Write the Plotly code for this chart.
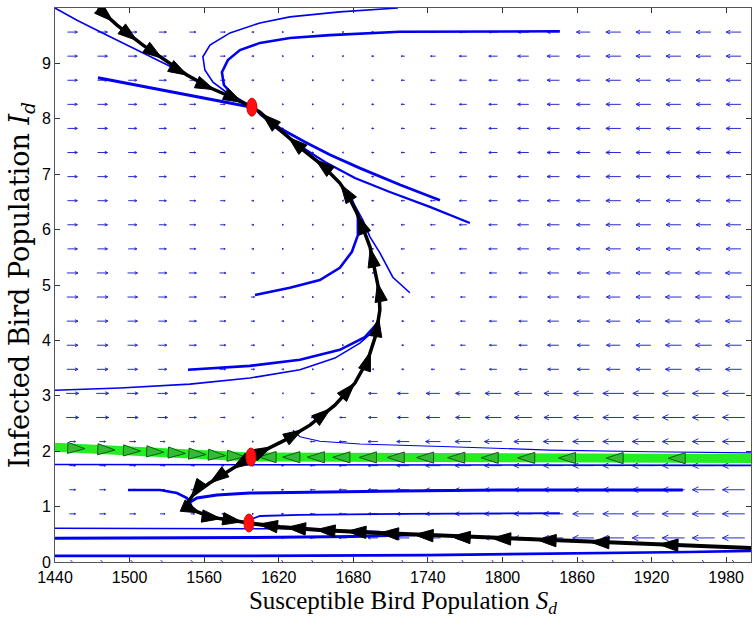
import numpy as np
import plotly.graph_objects as go

# ---------------------------------------------------------------------------
# Equilibria (S_d, I_d)
eq_S = [1598.4, 1597.6, 1596.0]
eq_I = [8.21, 1.895, 0.704]

# Black manifolds, each listed in the direction of the flow
blk_top_S = [1474.6, 1489.9, 1510.8, 1530.1, 1546.2, 1564.7, 1583.2, 1598.4]
blk_top_I = [10.0, 9.69, 9.33, 9.03, 8.79, 8.56, 8.38, 8.21]

blk_up_S = [1597.6, 1608.9, 1625.0, 1645.1, 1665.2, 1681.3, 1691.7, 1698.2, 1701.4,
            1700.6, 1698.2, 1693.4, 1687.7, 1682.9, 1675.7, 1669.2, 1654.7, 1639.5,
            1621.0, 1604.9, 1598.4]
blk_up_I = [1.895, 2.02, 2.20, 2.47, 2.83, 3.23, 3.65, 4.10, 4.55,
            4.91, 5.18, 5.69, 6.03, 6.30, 6.62, 6.84, 7.17, 7.44,
            7.80, 8.12, 8.21]

blk_low_S = [1597.6, 1580.8, 1564.7, 1551.0, 1547.0, 1551.0, 1564.7, 1580.8, 1596.0]
blk_low_I = [1.895, 1.66, 1.43, 1.21, 1.08, 0.94, 0.81, 0.76, 0.704]

blk_bot_S = [2000.0, 1958.8, 1894.4, 1830.1, 1765.7, 1701.4, 1653.1, 1621.0, 1596.0]
blk_bot_I = [0.253, 0.289, 0.343, 0.397, 0.451, 0.523, 0.578, 0.632, 0.704]

# Green stable manifold of the saddle
grn_left_S = [1440.0, 1520.0, 1597.6]
grn_left_I = [2.07, 1.99, 1.895]
grn_right_S = [2000.0, 1800.0, 1597.6]
grn_right_I = [1.87, 1.88, 1.895]

# Blue sample trajectories
blue_corner_S = [1440.0, 1457.7, 1476.2, 1502.7, 1534.9, 1572.7, 1598.4]
blue_corner_I = [10.0, 9.78, 9.57, 9.28, 8.92, 8.48, 8.21]
blue_ray_S = [1474.6, 1536.5, 1598.4]
blue_ray_I = [8.74, 8.48, 8.21]
blue_hook1_S = [1715.9, 1669.2, 1629.0, 1604.9, 1580.8, 1564.7, 1559.0, 1560.6, 1567.1, 1580.8, 1598.4]
blue_hook1_I = [10.0, 9.93, 9.84, 9.73, 9.55, 9.33, 9.12, 8.88, 8.66, 8.43, 8.21]
blue_hook2_S = [1846.2, 1781.8, 1717.5, 1661.2, 1629.0, 1604.9, 1588.8, 1579.1, 1574.3, 1575.9, 1584.8, 1598.4]
blue_hook2_I = [9.58, 9.58, 9.57, 9.51, 9.46, 9.37, 9.24, 9.06, 8.84, 8.61, 8.39, 8.21]
blue_r1_S = [1749.7, 1717.5, 1685.3, 1661.2, 1641.1, 1621.0, 1604.9]
blue_r1_I = [6.53, 6.81, 7.11, 7.35, 7.58, 7.83, 8.09]
blue_r2_S = [1773.8, 1741.6, 1709.4, 1681.3, 1657.2, 1637.1, 1617.0, 1603.3]
blue_r2_I = [6.12, 6.41, 6.68, 6.93, 7.22, 7.51, 7.85, 8.12]
blue_m1_S = [1600.9, 1629.0, 1653.1, 1669.2, 1678.9, 1683.7, 1683.7, 1677.3]
blue_m1_I = [4.82, 4.95, 5.09, 5.31, 5.60, 5.90, 6.26, 6.62]
blue_m2_S = [1725.5, 1711.8, 1701.4, 1693.4, 1687.7, 1678.9]
blue_m2_I = [4.86, 5.14, 5.58, 5.87, 6.17, 6.53]
blue_l1_S = [1440.0, 1492.3, 1548.6, 1596.8, 1637.1, 1665.2, 1685.3, 1697.4]
blue_l1_I = [3.10, 3.14, 3.21, 3.32, 3.47, 3.68, 3.95, 4.19]
blue_l2_S = [1547.0, 1596.8, 1637.1, 1669.2, 1689.3, 1698.2]
blue_l2_I = [3.47, 3.54, 3.65, 3.83, 4.06, 4.28]
blue_s1_S = [1631.4, 1637.1, 1653.1, 1685.3, 1757.7, 1838.1, 1918.6, 2000.0]
blue_s1_I = [2.38, 2.26, 2.18, 2.13, 2.08, 2.02, 1.99, 1.97]
blue_s2_S = [1440.0, 1600.0, 1800.0, 2000.0]
blue_s2_I = [1.76, 1.755, 1.75, 1.745]
blue_t1_S = [1498.7, 1524.5, 1538.1, 1546.2, 1548.6, 1551.0, 1564.7, 1580.8, 1596.0]
blue_t1_I = [1.30, 1.30, 1.245, 1.155, 1.065, 0.94, 0.81, 0.76, 0.704]
blue_t2_S = [1945.1, 1878.3, 1797.9, 1717.5, 1637.1, 1596.8, 1570.3, 1554.2, 1548.6]
blue_t2_I = [1.30, 1.30, 1.30, 1.28, 1.26, 1.245, 1.21, 1.155, 1.08]
blue_b1_S = [1846.2, 1717.5, 1637.1, 1604.9, 1596.0]
blue_b1_I = [0.88, 0.87, 0.85, 0.83, 0.76]
blue_b2_S = [1440.0, 1540.0, 1620.0, 1701.4]
blue_b2_I = [0.61, 0.61, 0.60, 0.55]
blue_b3_S = [1440.0, 1520.0, 1600.0, 1680.0, 1730.0]
blue_b3_I = [0.43, 0.43, 0.44, 0.46, 0.49]
blue_b4_S = [1440.0, 1600.0, 1740.0, 1850.0, 1950.0, 2000.0]
blue_b4_I = [0.11, 0.11, 0.125, 0.15, 0.18, 0.20]

blue_paths = [
    (blue_corner_S, blue_corner_I, 1.6), (blue_ray_S, blue_ray_I, 3.0),
    (blue_hook1_S, blue_hook1_I, 1.6), (blue_hook2_S, blue_hook2_I, 2.6),
    (blue_r1_S, blue_r1_I, 2.8), (blue_r2_S, blue_r2_I, 2.2),
    (blue_m1_S, blue_m1_I, 2.6), (blue_m2_S, blue_m2_I, 1.6),
    (blue_l1_S, blue_l1_I, 1.6), (blue_l2_S, blue_l2_I, 2.6),
    (blue_s1_S, blue_s1_I, 1.2), (blue_s2_S, blue_s2_I, 1.6),
    (blue_t1_S, blue_t1_I, 2.6), (blue_t2_S, blue_t2_I, 3.0),
    (blue_b1_S, blue_b1_I, 1.8), (blue_b2_S, blue_b2_I, 1.4),
    (blue_b3_S, blue_b3_I, 3.0), (blue_b4_S, blue_b4_I, 2.6),
]

# Direction field: horizontal components (dS) per column, grouped by bands of rows
field_S = np.linspace(1454, 1986, 23)
field_I = np.linspace(0, 10, 24)[:23]
u_top = [8, 8, 7, 6, 5, 4, 2, 1, 1, -1, -2, -3, -4, -6, -7, -9, -10, -11, -12, -12, -12, -12, -12]
u_mid = [9, 9, 8, 7, 6, 5, 3, 2, 1, 1, -1, -2, -3, -4, -6, -7, -9, -10, -11, -12, -13, -13, -13]
u_low = [10, 10, 9, 8, 6, 4, 2, -1, -3, -5, -7, -9, -11, -12, -13, -14, -15, -16, -17, -17, -18, -18, -18]
u_sat = [5, 5, 5, 4, 3, 2, 1, -2, -4, -6, -8, -10, -12, -13, -14, -15, -16, -17, -17, -18, -18, -18, -18]
u_base = [3, 3, 3, 3, 3, 3, 2, 2, 2, 2, 2, 2, 2, 2, 2, 2, 2, 2, 2, 2, 2, 2, 2]
v_base = -0.07
row_band = ["base", "sat", "sat", "sat", "sat", "sat", "low", "low",
            "mid", "mid", "mid", "mid", "mid",
            "top", "top", "top", "top", "top", "top", "top", "top", "top", "top"]

# ---------------------------------------------------------------------------
S_MIN, S_MAX, I_MIN, I_MAX = 1440, 2000, 0, 10
W, H = 754, 631
ML, MR, MT, MB = 55, 3, 8, 69
PX_S = (W - ML - MR) / (S_MAX - S_MIN)   # pixels per unit of S
PX_I = (H - MT - MB) / (I_MAX - I_MIN)   # pixels per unit of I

fig = go.Figure()

# quiver arrows as one segmented line trace
bands = {"top": u_top, "mid": u_mid, "low": u_low, "sat": u_sat, "base": u_base}
qx, qy = [], []
for k, I0 in enumerate(field_I):
    us = bands[row_band[k]]
    v = v_base if row_band[k] == "base" else 0.0
    for j, S0 in enumerate(field_S):
        dx, dy = us[j] * PX_S, v * PX_I          # pixel vector (y up)
        L = np.hypot(dx, dy)
        if L < 0.5:
            dx, L = 1.0, 1.0
        tx, ty = S0 - us[j] / 2, I0 - v / 2
        hx, hy = S0 + us[j] / 2, I0 + v / 2
        qx += [tx, hx, None]
        qy += [ty, hy, None]
        ux, uy = dx / L, dy / L
        bl = max(1.5, 0.3 * L)
        for sgn in (1, -1):
            a = np.deg2rad(25) * sgn
            bx = -(ux * np.cos(a) - uy * np.sin(a)) * bl
            by = -(ux * np.sin(a) + uy * np.cos(a)) * bl
            qx += [hx, hx + bx / PX_S, None]
            qy += [hy, hy + by / PX_I, None]
fig.add_trace(go.Scatter(x=qx, y=qy, mode="lines", hoverinfo="skip",
                         line=dict(color="#2a2ad0", width=1)))

for s, i, w in blue_paths:
    fig.add_trace(go.Scatter(x=s, y=i, mode="lines", hoverinfo="skip",
                             line=dict(color="#0000ee", width=w)))


def arrow_marks(S, I, n, gamma):
    """Points along a path (in pixel arc length) and heading angles."""
    px = np.array(S) * PX_S
    py = -np.array(I) * PX_I
    seg = np.hypot(np.diff(px), np.diff(py))
    cum = np.concatenate([[0], np.cumsum(seg)])
    t = (np.arange(1, n + 1) - 0.35) / n
    pos = cum[-1] * t ** gamma
    xs, ys, ang = [], [], []
    for p in pos:
        j = min(np.searchsorted(cum, p) - 1, len(seg) - 1)
        j = max(j, 0)
        f = (p - cum[j]) / seg[j]
        xs.append(S[j] + f * (S[j + 1] - S[j]))
        ys.append(I[j] + f * (I[j + 1] - I[j]))
        ddx = px[j + 1] - px[j]
        ddy = py[j + 1] - py[j]
        ang.append(np.degrees(np.arctan2(ddx, -ddy)))
    return xs, ys, ang


def manifold(S, I, color, width, n, gamma, mcolor, mline, msize):
    fig.add_trace(go.Scatter(x=S, y=I, mode="lines", hoverinfo="skip",
                             line=dict(color=color, width=width)))
    xs, ys, ang = arrow_marks(S, I, n, gamma)
    fig.add_trace(go.Scatter(x=xs, y=ys, mode="markers", hoverinfo="skip",
                             marker=dict(symbol="arrow", size=msize, angle=ang,
                                         color=mcolor,
                                         line=dict(color=mline, width=1))))


manifold(grn_left_S, grn_left_I, "#22ee22", 9, 8, 0.75, "#33bb33", "#0b5e0b", 18)
manifold(grn_right_S, grn_right_I, "#22ee22", 9, 13, 0.6, "#33bb33", "#0b5e0b", 18)
manifold(blk_top_S, blk_top_I, "black", 3.5, 6, 1.0, "black", "black", 20)
manifold(blk_up_S, blk_up_I, "black", 3.5, 13, 1.0, "black", "black", 20)
manifold(blk_low_S, blk_low_I, "black", 3.5, 6, 0.85, "black", "black", 20)
manifold(blk_bot_S, blk_bot_I, "black", 4, 11, 0.6, "black", "black", 20)

# equilibria as small upright ellipses
for s, i in zip(eq_S, eq_I):
    fig.add_shape(type="circle", xref="x", yref="y", layer="above",
                  xsizemode="pixel", ysizemode="pixel", xanchor=s, yanchor=i,
                  x0=-5, x1=5, y0=-9, y1=9,
                  fillcolor="#ff1010", line=dict(color="#e00000", width=1))

tick_font = dict(family="Liberation Sans, Arial, sans-serif", size=16, color="black")
fig.update_layout(
    width=W, height=H, margin=dict(l=ML, r=MR, t=MT, b=MB),
    paper_bgcolor="white", plot_bgcolor="white", showlegend=False,
    xaxis=dict(range=[S_MIN, S_MAX], tickvals=list(range(1440, 2000, 60)),
               ticks="inside", ticklen=5, tickcolor="#333", showline=True,
               linecolor="#555", linewidth=1, mirror="ticks", showgrid=False,
               zeroline=False, tickfont=tick_font, ticklabelstandoff=1,
               title=dict(text="Susceptible Bird Population <i>S</i><sub><i>d</i></sub>",
                          font=dict(family="Liberation Serif, serif", size=25, color="black"),
                          standoff=6)),
    yaxis=dict(range=[I_MIN, I_MAX], tickvals=list(range(0, 11)),
               ticks="inside", ticklen=5, tickcolor="#333", showline=True,
               linecolor="#555", linewidth=1, mirror="ticks", showgrid=False,
               zeroline=False, tickfont=tick_font,
               title=dict(text="Infected Bird Population <i>I</i><sub><i>d</i></sub>",
                          font=dict(family="DejaVu Serif, serif", size=27, color="black"),
                          standoff=4)),
)

fig.write_html("out.html")
